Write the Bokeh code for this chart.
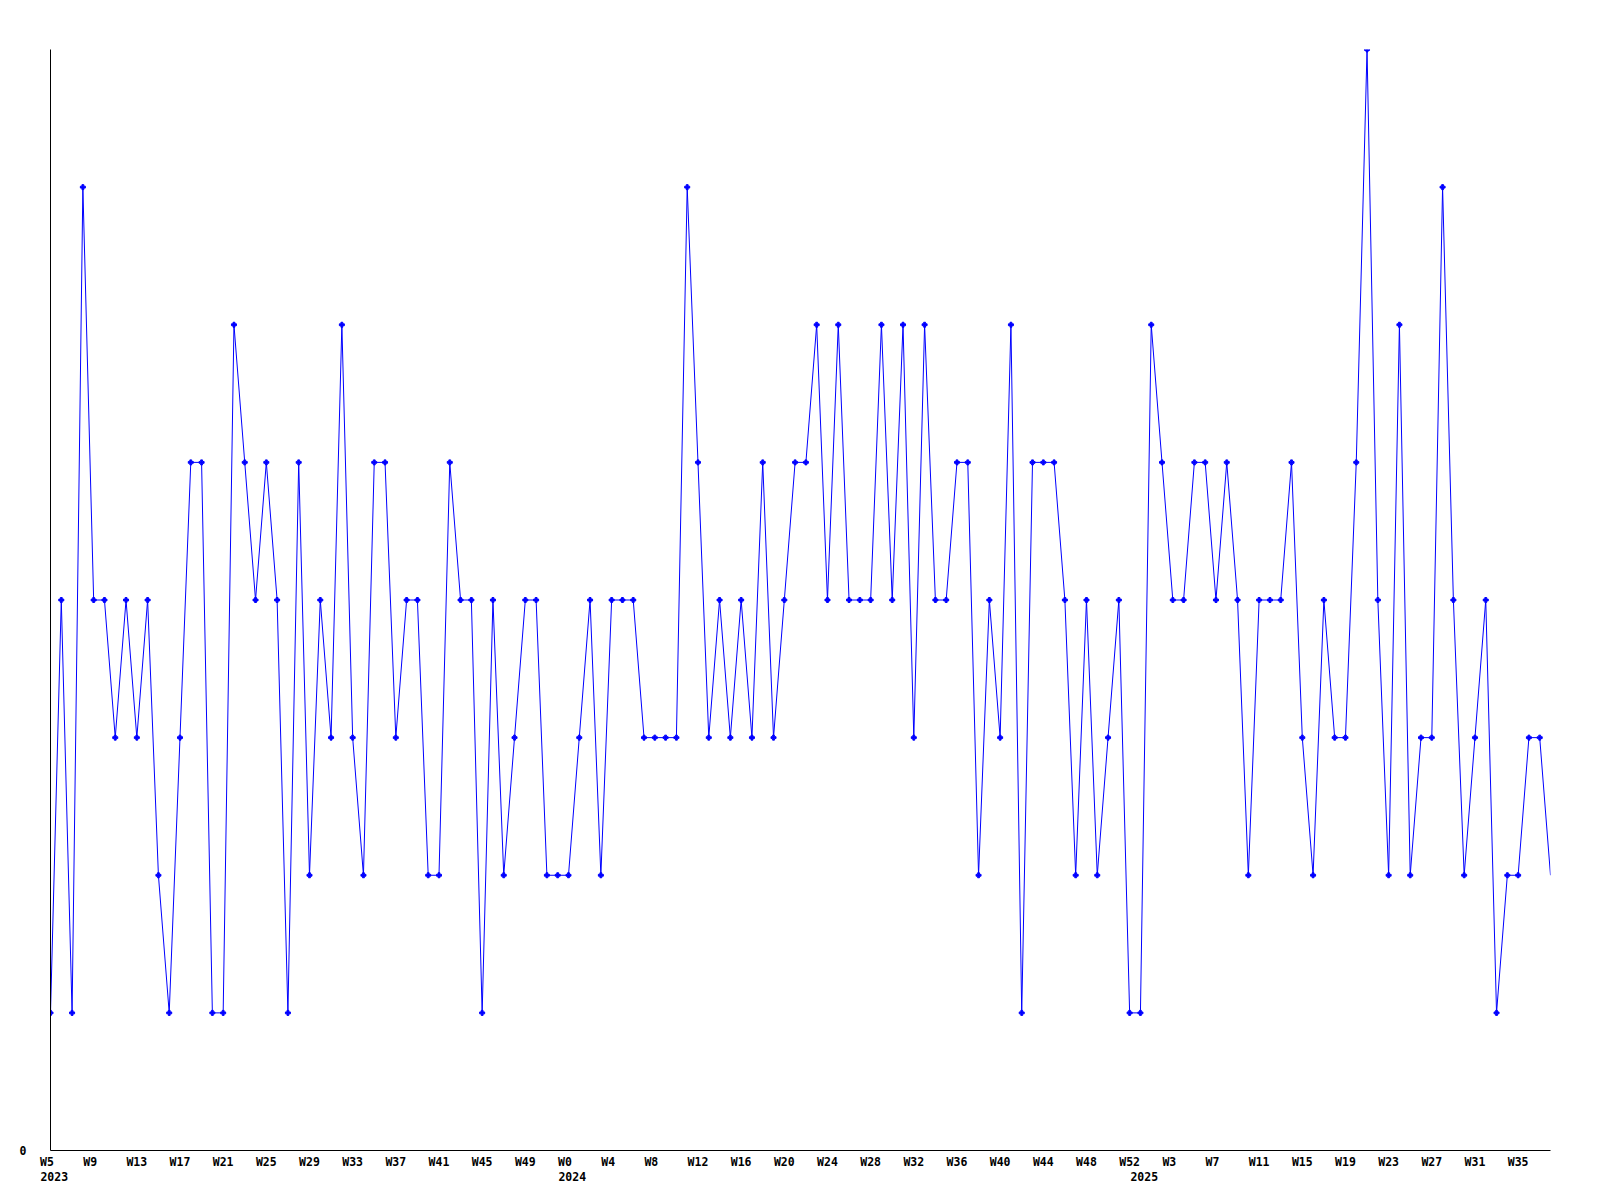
from bokeh.plotting import figure
from bokeh.models import Range1d, FixedTicker, LinearAxis
from bokeh.embed import file_html
from bokeh.resources import INLINE

# weekly counts, 2023 W5 .. 2025 W38
values = [1, 4, 1, 7, 4, 4, 3, 4, 3, 4,
          2, 1, 3, 5, 5, 1, 1, 6, 5, 4,
          5, 4, 1, 5, 2, 4, 3, 6, 3, 2,
          5, 5, 3, 4, 4, 2, 2, 5, 4, 4,
          1, 4, 2, 3, 4, 4, 2, 2, 2, 3,
          4, 2, 4, 4, 4, 3, 3, 3, 3, 7,
          5, 3, 4, 3, 4, 3, 5, 3, 4, 5,
          5, 6, 4, 6, 4, 4, 4, 6, 4, 6,
          3, 6, 4, 4, 5, 5, 2, 4, 3, 6,
          1, 5, 5, 5, 4, 2, 4, 2, 3, 4,
          1, 1, 6, 5, 4, 4, 5, 5, 4, 5,
          4, 2, 4, 4, 4, 5, 3, 2, 4, 3,
          3, 5, 8, 4, 2, 6, 2, 3, 3, 7,
          4, 2, 3, 4, 1, 2, 2, 3, 3, 2]

week_labels = ["W5", "W9", "W13", "W17", "W21", "W25", "W29", "W33", "W37", "W41",
               "W45", "W49", "W0", "W4", "W8", "W12", "W16", "W20", "W24", "W28",
               "W32", "W36", "W40", "W44", "W48", "W52", "W3", "W7", "W11", "W15",
               "W19", "W23", "W27", "W31", "W35"]
year_labels = ["2023", "2024", "2025"]
year_start_week = [0, 48, 101]   # index of first week of each year in the series

idx = list(range(len(values)))
tick_idx = idx[::4][:len(week_labels)]

FONT = "DejaVu Sans Mono"
FSIZE = "11.5px"
BLUE = "#0000ff"
NB = "\u00a0"

n = len(values)
px_per_week = 1500 / (n - 1)
yr_shift = 3.8 / px_per_week

p = figure(width=1592, height=1192, output_backend="svg", toolbar_location=None,
           x_range=Range1d(0, n - 1), y_range=Range1d(0, max(values)),
           min_border_left=50, min_border_right=42, min_border_top=49, min_border_bottom=42)
p.outline_line_color = None
p.xgrid.visible = False
p.ygrid.visible = False
p.extra_x_ranges = {"yr": Range1d(-yr_shift, n - 1 - yr_shift)}


def style(ax):
    ax.major_tick_line_color = None
    ax.minor_tick_line_color = None
    ax.major_tick_out = 0
    ax.major_tick_in = 0
    ax.major_label_text_font = FONT
    ax.major_label_text_font_style = "bold"
    ax.major_label_text_font_size = FSIZE
    ax.major_label_text_color = "black"


xa = p.xaxis[0]
style(xa)
xa.ticker = FixedTicker(ticks=tick_idx)
xa.major_label_overrides = {i: w.ljust(3, NB) for i, w in zip(tick_idx, week_labels)}
xa.major_label_standoff = 4
xa.axis_line_color = "black"

ya = LinearAxis(x_range_name="yr")
style(ya)
ya.ticker = FixedTicker(ticks=year_start_week)
ya.major_label_overrides = {i: y for i, y in zip(year_start_week, year_labels)}
ya.major_label_standoff = 0
ya.axis_line_color = None
p.add_layout(ya, "below")

yax = p.yaxis[0]
style(yax)
yax.ticker = FixedTicker(ticks=[0])
yax.major_label_standoff = 24
yax.axis_line_color = "black"

p.line(idx, values, line_color=BLUE, line_width=1)
p.scatter(idx[:-1], values[:-1], marker="plus", size=5, color=BLUE)

open("out.html", "w").write(file_html(p, INLINE))
